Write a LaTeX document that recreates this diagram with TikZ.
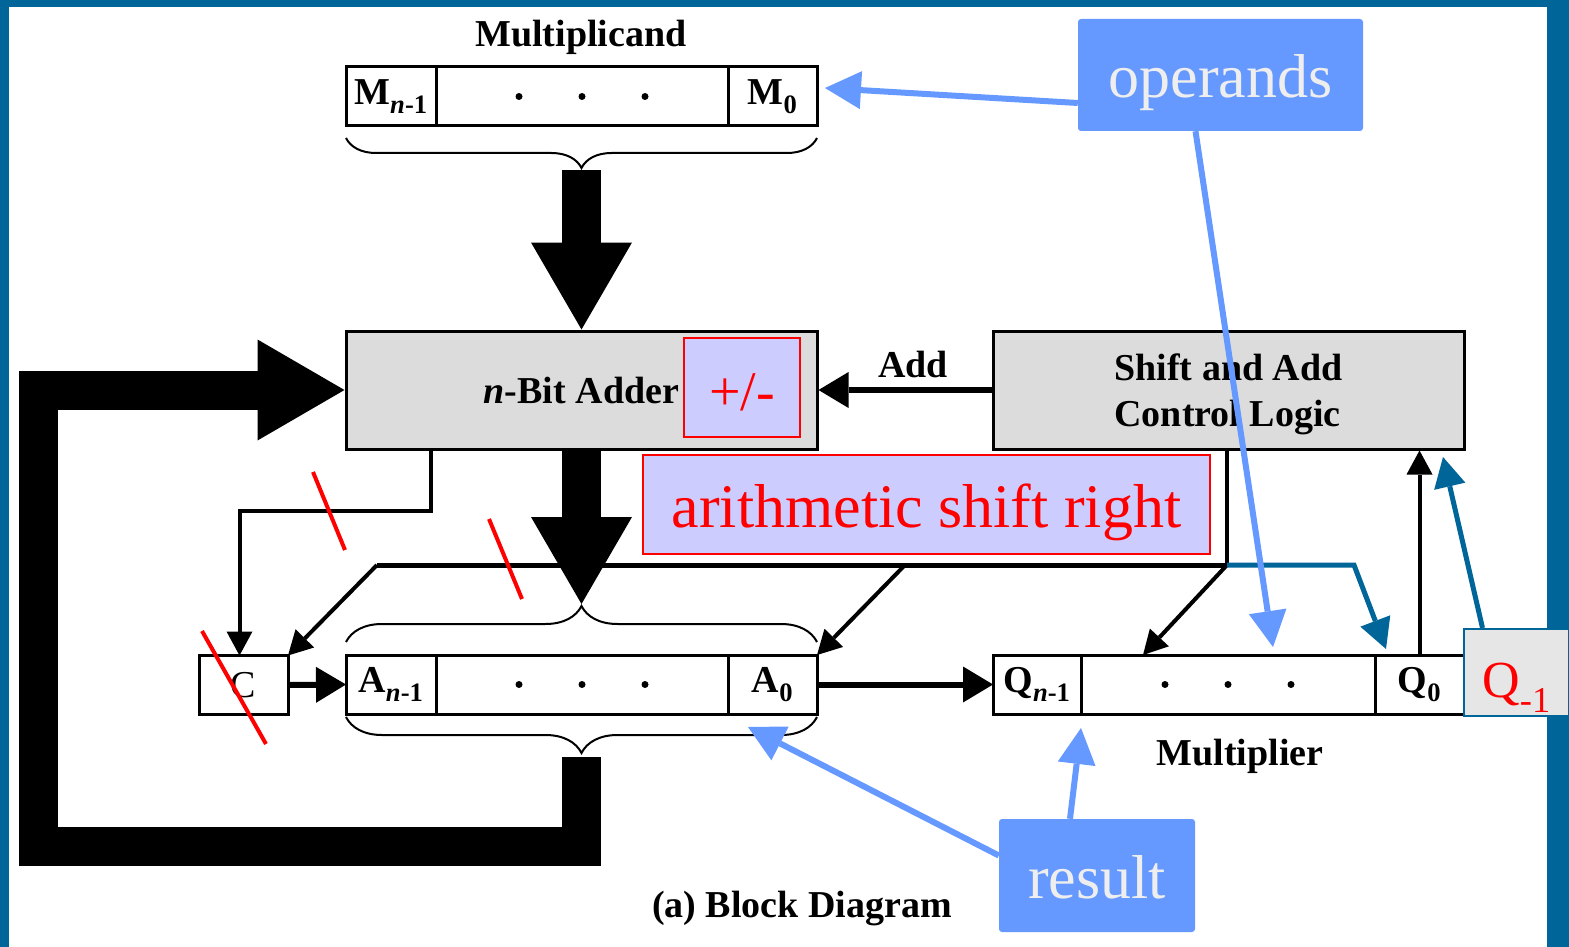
\documentclass[tikz,border=0pt]{standalone}
\usepackage{fontspec}
\setmainfont{Liberation Serif}
\usetikzlibrary{positioning,arrows.meta,decorations.pathreplacing}
\definecolor{frameblue}{HTML}{006699}
\definecolor{boxgray}{HTML}{DCDCDC}
\definecolor{lavender}{HTML}{CCCCFF}
\definecolor{calloutblue}{HTML}{6699FF}
\definecolor{callouttext}{HTML}{EEEEEE}
\definecolor{qgray}{HTML}{E6E6E6}
\begin{document}
\begin{tikzpicture}[
    x=1pt, y=-1pt, line join=miter,
    cell/.style={draw, line width=3pt, outer sep=0pt, minimum height=59pt, inner sep=0pt, font=\fontsize{38}{42}\selectfont\bfseries},
    unit/.style={draw, line width=3pt, fill=boxgray, minimum width=471pt, minimum height=118pt, inner sep=0pt, font=\fontsize{38}{46}\selectfont\bfseries},
    note/.style={draw=red, line width=2pt, fill=lavender, text=red, inner sep=0pt, text height=46pt, text depth=0pt},
    callout/.style={fill=calloutblue, rounded corners=3pt, text=callouttext, inner sep=0pt, text height=46pt, text depth=0pt, font=\fontsize{62}{70}\selectfont},
    lbl/.style={font=\fontsize{38}{42}\selectfont\bfseries},
    bus/.style={line width=39pt, -{Triangle[length=87pt 0 0, width=101pt 0 0, line width=0pt 0 0]}},
    wire/.style={line width=4pt, -{Triangle[length=24pt 0 0, width=26pt 0 0, line width=0pt 0 0]}},
    fat/.style={line width=6pt, -{Triangle[length=30pt 0 0, width=36pt 0 0, line width=0pt 0 0]}},
    pointer/.style={draw=calloutblue, line width=6pt, -{Triangle[length=36pt 0 0, width=38pt 0 0, line width=0pt 0 0]}},
    qline/.style={draw=frameblue, line width=5pt, -{Triangle[length=30pt 0 0, width=32pt 0 0, line width=0pt 0 0]}},
    slash/.style={red, line width=4pt},
    brc/.style={decorate, decoration={brace, amplitude=#1}, line width=2pt}
  ]
  % frame
  \fill[frameblue] (0,0) rectangle (1569,947);
  \fill[white] (9,7) rectangle (1547,947);
  \useasboundingbox (0,0) rectangle (1569,947);

  % multiplicand register
  \node[lbl] (mcand) at (581,37) {Multiplicand};
  \node[cell, minimum width=90pt] (mhi) at (391,96.5) {M\textsubscript{\textit{n}-1}};
  \node[cell, minimum width=292pt, right=0pt of mhi] (mdots) {};
  \node[cell, minimum width=89pt, right=0pt of mdots] (mlo) {M\textsubscript{0}};
  \draw[brc=30pt, decoration={mirror}] (346,138) -- (817,138);
  \coordinate (mtip) at (581.5,170);

  % adder and control
  \node[unit] (adder) at (581.5,390) {\textit{n}-Bit Adder};
  \node[note, minimum width=116pt, minimum height=99pt, font=\fontsize{56}{60}\selectfont] (pm) at (742,387.5) {+/-};
  \node[unit, align=left, text depth=0pt] (ctrl) at (1228.5,390) {Shift and Add\\Control Logic};
  \node[lbl] (add) at (913,364) {Add};

  % A and Q registers
  \node[cell, minimum width=89pt, font=\fontsize{38}{42}\selectfont] (c) at (243.5,685) {C};
  \node[cell, minimum width=90pt] (ahi) at (391,684.5) {A\textsubscript{\textit{n}-1}};
  \node[cell, minimum width=292pt, right=0pt of ahi] (adots) {};
  \node[cell, minimum width=89pt, right=0pt of adots] (alo) {A\textsubscript{0}};
  \draw[brc=36pt] (346,642) -- (817,642);
  \draw[brc=36pt, decoration={mirror}] (346,717) -- (817,717);
  \coordinate (atop) at (581.5,604);
  \coordinate (abot) at (581.5,757);

  \node[cell, minimum width=88pt] (qhi) at (1037,684.5) {Q\textsubscript{\textit{n}-1}};
  \node[cell, minimum width=294pt, right=0pt of qhi] (qdots) {};
  \node[cell, minimum width=89pt, right=0pt of qdots] (qlo) {Q\textsubscript{0}};
  \node[draw=frameblue, line width=2pt, fill=qgray, text=red, minimum width=105pt, minimum height=87pt, inner sep=0pt, text height=50pt, text depth=0pt, font=\fontsize{52}{56}\selectfont] (qm) at (1516.5,672.5) {Q\textsubscript{-1}};
  \node[lbl] (mplier) at (1240,756) {Multiplier};
  \node[lbl] (caption) at (802,909) {(a) Block Diagram};

  \foreach \reg in {mdots,adots,qdots}
    \foreach \dx in {-63,0,63}
      \fill ([xshift=\dx pt]\reg.center) circle (3.5pt);

  % control bus
  \coordinate (busr) at (1227,565);
  \coordinate (busm) at (905,565);
  \coordinate (busl) at (377,565);
  \coordinate (qjog) at (1354,565);
  \draw[line width=4pt] (ctrl.south -| busr) -- (busr);
  \draw[line width=5pt] (busr) -- (busl);
  \draw[wire] (busl) -- (c.north east);
  \draw[wire] (busm) -- (alo.north east);
  \draw[wire] (busr) -- ([xshift=-85pt]qdots.north);
  \draw[wire] ([xshift=-150.5pt]adder.south) -- ++(0,60) -| ([xshift=-4pt]c.north);
  \draw[fat] (c.east) -- (ahi.west);
  \draw[fat] (alo.east) -- (qhi.west);
  \draw[fat] (ctrl.west) -- (adder.east);
  \draw[wire] (qlo.north) -- (qlo.north |- ctrl.south);

  % data paths
  \draw[bus] (mtip) -- (adder.north);
  \draw[bus] (adder.south) -- (atop);
  \draw[bus] (abot) |- (38,846) |- (adder.west);

  \node[note, minimum width=567pt, minimum height=99pt, font=\fontsize{62}{66}\selectfont] (asr) at (926.5,504.5) {arithmetic shift right};

  % Q_-1 paths
  \coordinate (qtip) at (1386,649);
  \coordinate (qmtip) at (1443,457);
  \draw[qline] (busr) -- (qjog) -- (qtip);
  \draw[qline] ([xshift=-34pt]qm.north) -- (qmtip);

  % cut lines
  \draw[slash] (313,472) -- (345,550);
  \draw[slash] (489,519) -- (522,599);
  \draw[slash] (202,631) -- (266,744);

  % callouts
  \node[callout, minimum width=285pt, minimum height=112pt] (operands) at (1220.5,75) {operands};
  \node[callout, minimum width=196pt, minimum height=113pt] (result) at (1097,875.5) {result};
  \draw[pointer] ([yshift=-28pt]operands.west) -- ([xshift=8pt,yshift=8.5pt]mlo.east);
  \draw[pointer] ([xshift=-25pt]operands.south) -- ([xshift=45pt,yshift=8pt]qdots.north);
  \draw[pointer] ([xshift=-27pt]result.north) -- ([yshift=-14pt]qhi.south east);
  \draw[pointer] ([yshift=20pt]result.west) -- ([xshift=-24.5pt,yshift=-13pt]alo.south);
\end{tikzpicture}
\end{document}
